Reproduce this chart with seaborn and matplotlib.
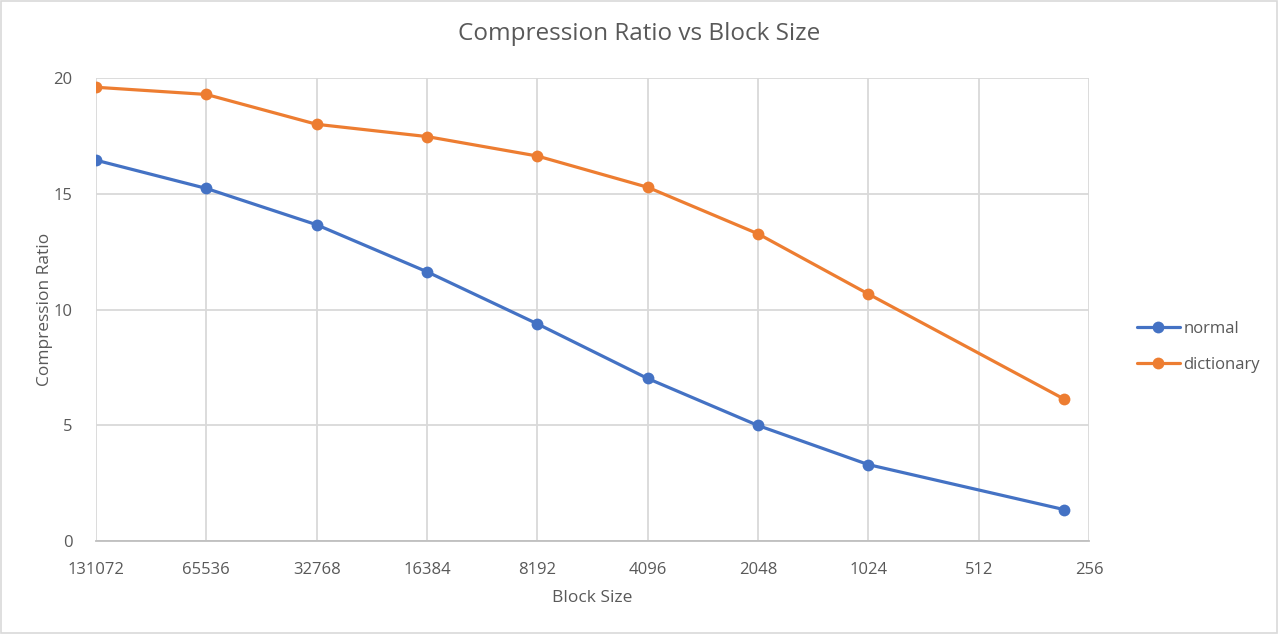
import matplotlib
matplotlib.use("Agg")
import matplotlib.pyplot as plt
import seaborn as sns
import pandas as pd
from matplotlib.ticker import FixedLocator, FixedFormatter, NullLocator
from matplotlib.patches import Rectangle

block_sizes = [131072, 65536, 32768, 16384, 8192, 4096, 2048, 1024, 300]
normal = [16.45, 15.23, 13.66, 11.63, 9.38, 7.02, 4.99, 3.30, 1.36]
dictionary = [19.60, 19.29, 18.00, 17.47, 16.63, 15.28, 13.27, 10.67, 6.14]
tick_values = [131072, 65536, 32768, 16384, 8192, 4096, 2048, 1024, 512, 256]
tick_labels = [str(v) for v in tick_values]
series_names = ["normal", "dictionary"]
colors = ["#4472C4", "#ED7D31"]

df = pd.DataFrame({
    "Block Size": block_sizes * 2,
    "Compression Ratio": normal + dictionary,
    "series": ["normal"] * len(block_sizes) + ["dictionary"] * len(block_sizes),
})

sns.set_style("white")
plt.rcParams["font.family"] = ["Open Sans", "DejaVu Sans"]
text_color = "#595959"

fig = plt.figure(figsize=(12.78, 6.34), dpi=100)
ax = fig.add_axes([96/1278, 1 - 541/634, (1089-96)/1278, (541-78)/634])

sns.lineplot(data=df, x="Block Size", y="Compression Ratio", hue="series",
             hue_order=series_names, palette=colors, marker="o", markersize=8.5,
             markeredgewidth=0, linewidth=2.3, ax=ax, sort=False, zorder=3)

ax.set_xscale("log", base=2)
ax.set_xlim(131072, 256)
ax.set_ylim(0, 20)
ax.xaxis.set_major_locator(FixedLocator(tick_values))
ax.xaxis.set_major_formatter(FixedFormatter(tick_labels))
ax.xaxis.set_minor_locator(NullLocator())
ax.set_yticks([0, 5, 10, 15, 20])

ax.grid(True, color="#d9d9d9", linewidth=1.3, zorder=0)
ax.set_axisbelow(True)
for s in ["top", "right", "left"]:
    ax.spines[s].set_visible(False)
ax.spines["bottom"].set_color("#bfbfbf")
ax.spines["bottom"].set_linewidth(1.3)
ax.tick_params(axis="both", length=0, labelsize=12, colors=text_color)
ax.tick_params(axis="x", pad=15)
ax.tick_params(axis="y", pad=17)

ax.set_xlabel("Block Size", fontsize=12.5, color=text_color, labelpad=9)
ax.set_ylabel("Compression Ratio", fontsize=12.5, color=text_color, labelpad=0)
fig.suptitle("Compression Ratio vs Block Size", fontsize=17.5, color=text_color,
             y=1 - 22/634, va="top")

handles, labels = ax.get_legend_handles_labels()
leg = ax.legend(handles, labels, loc="center left", bbox_to_anchor=(1.033, 0.42),
                frameon=False, fontsize=12, labelcolor=text_color,
                handlelength=2.6, handletextpad=0.2, labelspacing=1.2)

fig.patches.append(Rectangle((0.001, 0.001), 0.998, 0.997, transform=fig.transFigure,
                             fill=False, edgecolor="#d9d9d9", linewidth=1.2))

fig.savefig("out.png", dpi=100, facecolor="white")
